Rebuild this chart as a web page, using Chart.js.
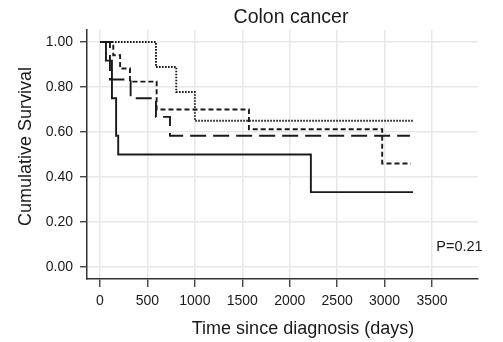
<!DOCTYPE html>
<html><head><meta charset="utf-8">
<script src="https://cdn.jsdelivr.net/npm/chart.js@4.4.0/dist/chart.umd.min.js"></script>
<style>html,body{margin:0;padding:0;background:#fff;overflow:hidden}#wrap{width:503px;height:342px}</style>
</head><body><div id="wrap"><canvas id="c" width="503" height="342"></canvas></div>
<script>
const chartTitle = "Colon cancer";
const xAxisTitle = "Time since diagnosis (days)";
const yAxisTitle = "Cumulative Survival";
const pValueLabel = "P=0.21";
const xTickValues = [0, 500, 1000, 1500, 2000, 2500, 3000, 3500];
const yTickValues = [0, 0.2, 0.4, 0.6, 0.8, 1.0];

// Kaplan-Meier step curves (time in days, cumulative survival)
const solidDays = [0, 63, 126, 170, 192, 2223, 3300];
const solidSurv = [1, 0.917, 0.75, 0.583, 0.5, 0.333, 0.333];
const longDashDays = [0, 105, 323, 590, 738, 3267];
const longDashSurv = [1, 0.833, 0.75, 0.667, 0.583, 0.583];
const shortDashDays = [0, 140, 212, 316, 597, 1570, 2975, 3277];
const shortDashSurv = [1, 0.941, 0.882, 0.824, 0.70, 0.612, 0.46, 0.46];
const dottedDays = [0, 590, 804, 1000, 3302];
const dottedSurv = [1, 0.889, 0.778, 0.65, 0.65];

const toPts = (d, s) => d.map((x, i) => ({x: x, y: s[i]}));
const FONT = "'Liberation Sans', Arial, Helvetica, sans-serif";
const INK = '#1a1a1a';

function mkSet(label, d, s, dash, w) {
  return {label, data: toPts(d, s), stepped: true, borderColor: INK, borderWidth: w,
    borderDash: dash, pointRadius: 0, fill: false, tension: 0, borderCapStyle: 'butt'};
}

const textPlugin = {
  id: 'texts',
  afterDraw(chart) {
    const ctx = chart.ctx;
    const xs = chart.scales.x, ys = chart.scales.y;
    ctx.save();
    ctx.fillStyle = INK;
    ctx.textBaseline = 'alphabetic';
    ctx.textAlign = 'center';
    ctx.font = '19.5px ' + FONT;
    ctx.fillText(chartTitle, 291, 23);
    ctx.font = '18px ' + FONT;
    ctx.fillText(xAxisTitle, 303, 334);
    ctx.save();
    ctx.translate(31, 146.5);
    ctx.rotate(-Math.PI / 2);
    ctx.fillText(yAxisTitle, 0, 0);
    ctx.restore();
    ctx.font = '14.5px ' + FONT;
    ctx.textAlign = 'left';
    ctx.fillText(pValueLabel, xs.getPixelForValue(3545), ys.getPixelForValue(0.07));
    ctx.restore();
  }
};

new Chart(document.getElementById('c'), {
  type: 'line',
  data: {
    datasets: [
      mkSet('group 1', solidDays, solidSurv, [], 1.9),
      mkSet('group 2', longDashDays, longDashSurv, [16, 7], 1.9),
      mkSet('group 3', shortDashDays, shortDashSurv, [5, 3], 1.9),
      mkSet('group 4', dottedDays, dottedSurv, [1.6, 1.4], 1.9)
    ]
  },
  options: {
    responsive: false,
    devicePixelRatio: 1,
    animation: false,
    layout: {padding: {left: 0, right: 25, top: 30, bottom: 0}},
    plugins: {legend: {display: false}, title: {display: false}, tooltip: {enabled: false}},
    scales: {
      x: {
        type: 'linear', min: -137, max: 3985,
        afterBuildTicks: s => { s.ticks = xTickValues.map(v => ({value: v})); },
        afterFit: s => { s.height = 63; },
        grid: {color: '#e8e8e8', lineWidth: 1.5, drawTicks: true, tickLength: 8, tickColor: '#333', tickWidth: 1.3},
        border: {display: true, color: '#333', width: 1.5},
        ticks: {font: {family: FONT, size: 14}, color: INK, padding: 6, maxRotation: 0, autoSkip: false,
          callback: v => String(v)}
      },
      y: {
        min: -0.0533, max: 1.0533,
        afterBuildTicks: s => { s.ticks = yTickValues.map(v => ({value: v})); },
        afterFit: s => { s.width = 87; },
        grid: {color: '#e8e8e8', lineWidth: 1.5, drawTicks: true, tickLength: 7, tickColor: '#333', tickWidth: 1.3},
        border: {display: true, color: '#333', width: 1.5},
        ticks: {font: {family: FONT, size: 14}, color: INK, padding: 7, callback: v => Number(v).toFixed(2)}
      }
    }
  },
  plugins: [textPlugin]
});
</script></body></html>
